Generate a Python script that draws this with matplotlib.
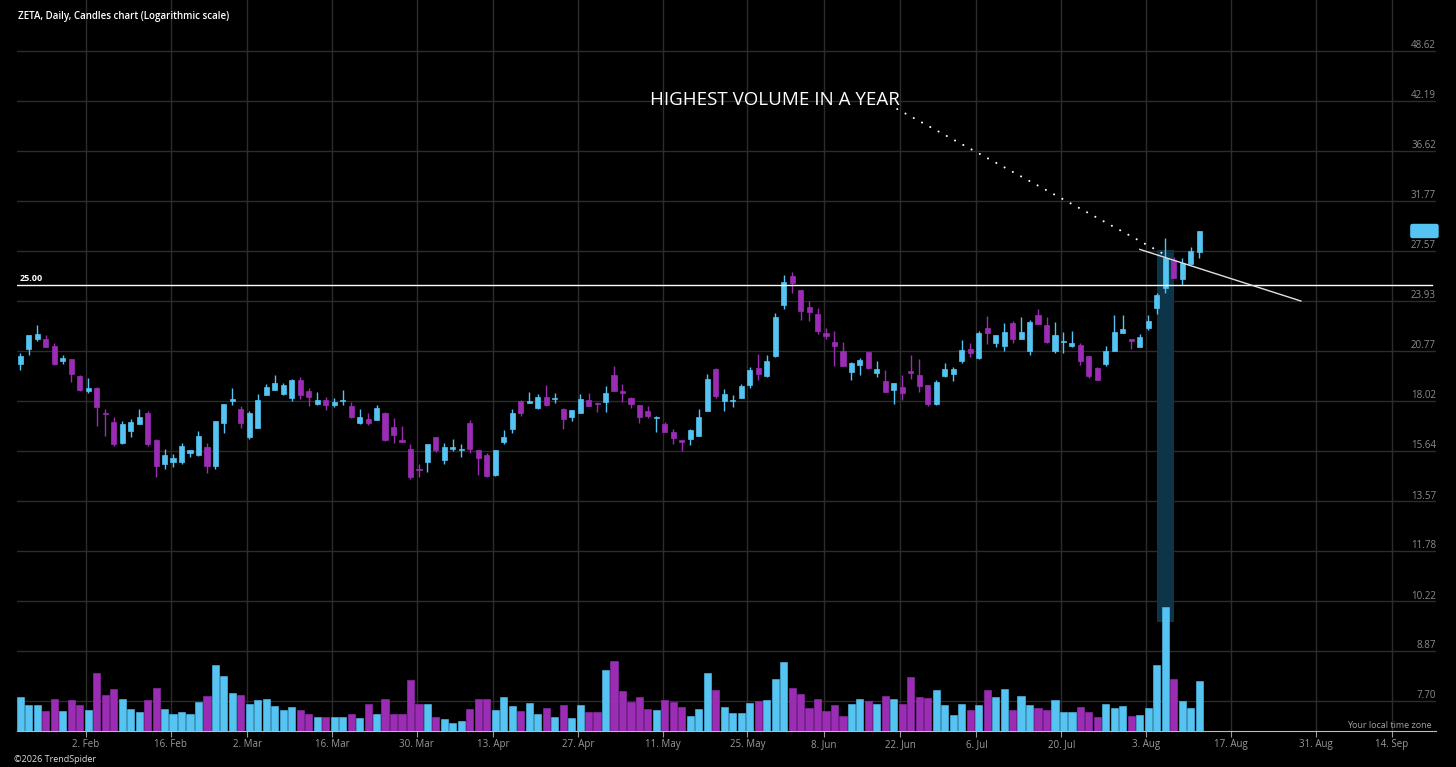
import numpy as np
import matplotlib
matplotlib.use('Agg')
import matplotlib.pyplot as plt
import matplotlib.transforms as mtransforms
from matplotlib.patches import Rectangle
from matplotlib.ticker import NullLocator

# ZETA daily candles, 21 Jan - 11 Aug 2026
start_day = '2026-01-21'
holidays = ['2026-02-16', '2026-04-03', '2026-05-25', '2026-06-19', '2026-07-03', '2026-09-07']

opens = [20.00, 20.85, 21.49, 21.45, 21.04, 20.16, 20.27, 19.31, 18.54, 18.70,
         17.40, 16.96, 15.97, 16.56, 16.87, 17.41, 16.13, 15.06, 15.14, 15.14,
         15.55, 15.45, 15.80, 14.97, 16.90, 18.01, 17.62, 16.27, 16.68, 18.32,
         18.58, 18.37, 18.15, 19.11, 18.51, 17.84, 18.06, 17.79, 17.99, 17.75,
         16.90, 17.11, 17.06, 17.39, 16.75, 16.12, 15.71, 14.86, 15.14, 16.24,
         15.23, 15.73, 15.67, 16.90, 15.67, 15.44, 14.60, 16.01, 16.62, 18.01,
         17.92, 17.64, 18.23, 18.11, 17.62, 17.22, 17.42, 18.06, 17.92, 17.96,
         19.37, 18.54, 18.15, 17.81, 17.52, 17.14, 16.85, 16.51, 16.12, 16.15,
         16.31, 17.52, 19.72, 18.02, 17.99, 18.16, 18.82, 19.79, 19.32, 20.46,
         23.64, 25.67, 24.67, 23.51, 23.03, 21.85, 21.31, 20.75, 19.53, 19.96,
         20.69, 19.48, 19.06, 18.58, 18.75, 19.60, 19.38, 18.84, 17.84, 19.31,
         19.44, 20.19, 20.85, 20.33, 22.14, 21.25, 21.04, 22.44, 21.47, 20.75,
         22.98, 22.33, 20.77, 21.27, 21.04, 21.11, 20.44, 19.79, 20.00, 20.77,
         21.85, 21.45, 21.00, 22.13, 23.42, 24.83, 26.86, 25.45, 26.54, 27.45]

highs = [20.65, 21.72, 22.33, 21.74, 21.25, 20.50, 20.30, 19.40, 19.22, 18.72,
         17.59, 17.19, 17.00, 17.12, 17.62, 17.50, 16.15, 15.70, 15.48, 15.97,
         15.69, 16.56, 15.97, 17.02, 17.88, 18.69, 17.75, 17.50, 18.37, 18.89,
         19.38, 18.93, 19.18, 19.26, 18.67, 18.47, 18.20, 18.16, 18.56, 17.96,
         17.59, 17.39, 17.79, 17.45, 17.14, 16.77, 15.93, 15.06, 15.96, 16.27,
         15.97, 16.17, 15.93, 17.06, 15.69, 15.52, 15.69, 16.59, 17.59, 18.06,
         18.49, 18.36, 18.83, 18.41, 17.64, 17.57, 18.37, 18.44, 17.94, 18.79,
         19.89, 18.89, 18.20, 17.83, 17.76, 17.26, 16.96, 16.62, 16.14, 16.65,
         17.59, 19.44, 19.77, 18.62, 18.30, 18.89, 19.85, 20.56, 20.52, 23.09,
         25.77, 25.96, 24.70, 23.89, 23.42, 22.13, 21.98, 21.31, 20.12, 20.34,
         20.71, 20.19, 19.66, 18.95, 19.38, 20.52, 20.27, 18.86, 19.11, 20.04,
         19.85, 21.41, 21.25, 21.96, 22.93, 21.72, 22.48, 22.59, 22.86, 22.65,
         23.36, 22.82, 22.52, 21.91, 21.98, 21.21, 20.46, 19.85, 21.04, 22.98,
         22.98, 21.47, 21.77, 22.98, 24.48, 28.56, 27.11, 26.99, 27.89, 29.20]

lows = [19.66, 20.52, 21.37, 20.98, 19.96, 19.98, 19.02, 18.54, 18.44, 16.77,
        16.32, 15.85, 15.95, 16.24, 16.85, 15.85, 14.53, 14.87, 14.95, 15.06,
        15.37, 15.43, 14.67, 14.85, 16.43, 17.81, 16.70, 16.15, 16.66, 18.30,
        18.56, 18.30, 18.02, 18.13, 17.75, 17.82, 17.55, 17.72, 17.82, 17.17,
        16.88, 16.82, 17.04, 16.10, 16.00, 16.02, 14.42, 14.50, 14.74, 15.57,
        15.05, 15.64, 15.37, 15.52, 14.60, 14.50, 14.56, 15.94, 16.46, 17.26,
        17.90, 17.62, 17.77, 17.89, 16.62, 17.01, 17.40, 17.73, 17.47, 17.47,
        18.51, 17.97, 17.65, 16.90, 17.14, 16.51, 16.48, 15.94, 15.63, 15.89,
        16.29, 17.50, 18.15, 17.52, 17.72, 18.14, 18.69, 19.11, 19.29, 20.42,
        23.40, 24.44, 22.65, 22.57, 21.77, 21.45, 19.89, 19.88, 19.11, 19.38,
        19.74, 19.26, 18.47, 17.84, 18.06, 19.15, 18.49, 17.77, 17.81, 19.26,
        19.06, 20.04, 20.38, 20.29, 21.17, 20.97, 20.77, 21.25, 21.45, 20.52,
        22.38, 21.25, 20.62, 20.65, 20.97, 19.94, 19.20, 19.09, 19.89, 20.75,
        21.83, 20.85, 20.97, 22.02, 23.05, 24.48, 25.53, 25.02, 26.52, 26.99]

closes = [20.46, 21.70, 21.78, 21.00, 19.98, 20.34, 19.45, 18.56, 18.69, 17.72,
          17.34, 15.93, 16.87, 16.96, 17.19, 15.94, 14.99, 15.46, 15.30, 15.87,
          15.67, 16.32, 14.99, 17.00, 17.86, 18.10, 16.93, 17.39, 18.06, 18.75,
          18.93, 18.84, 19.11, 18.32, 18.23, 18.06, 17.81, 17.94, 18.06, 17.19,
          17.22, 16.90, 17.67, 16.12, 16.36, 16.04, 14.53, 14.81, 15.94, 15.67,
          15.82, 15.82, 15.73, 15.70, 15.30, 14.56, 15.67, 16.24, 17.42, 17.39,
          18.01, 18.20, 17.79, 18.18, 17.09, 17.55, 18.10, 17.75, 17.84, 18.44,
          18.53, 18.44, 17.84, 17.22, 17.26, 17.19, 16.50, 16.23, 16.04, 16.59,
          17.19, 19.15, 18.27, 18.36, 18.06, 18.80, 19.66, 19.45, 20.17, 22.86,
          25.22, 25.19, 23.24, 23.16, 21.98, 21.65, 21.06, 19.90, 20.04, 20.25,
          19.76, 19.73, 18.49, 18.93, 18.44, 19.51, 18.79, 17.86, 19.00, 19.73,
          19.73, 20.81, 20.65, 21.85, 21.85, 21.70, 21.91, 21.45, 21.91, 22.54,
          22.40, 21.31, 21.70, 21.35, 21.21, 20.19, 19.32, 19.11, 20.75, 21.89,
          22.06, 21.35, 21.61, 22.57, 24.32, 26.99, 25.55, 26.65, 27.58, 29.16]

# volume, millions of shares
volume = [8.5, 6.6, 6.6, 5.0, 8.1, 5.0, 7.8, 6.6, 5.3, 14.6,
          9.1, 10.5, 7.9, 5.6, 4.7, 7.8, 10.8, 5.6, 4.2, 4.8,
          4.2, 7.2, 8.7, 16.4, 13.7, 9.5, 9.1, 6.8, 7.7, 7.9,
          6.3, 5.3, 6.1, 5.3, 4.3, 3.6, 3.6, 3.4, 3.6, 4.2,
          3.2, 6.7, 4.3, 8.1, 4.2, 4.2, 12.8, 6.8, 6.8, 3.6,
          3.0, 2.0, 2.4, 5.6, 8.1, 7.9, 5.2, 8.5, 6.2, 5.0,
          7.0, 4.2, 5.8, 3.4, 6.6, 3.2, 6.6, 4.7, 4.8, 15.3,
          17.6, 9.9, 7.3, 8.5, 5.6, 5.2, 7.8, 7.3, 6.0, 3.8,
          5.6, 14.4, 10.2, 6.0, 4.4, 4.4, 7.0, 7.6, 7.8, 12.9,
          17.2, 10.7, 9.3, 5.7, 7.9, 4.9, 6.4, 3.8, 6.8, 7.9,
          7.6, 6.8, 8.8, 8.1, 6.8, 13.5, 8.6, 8.3, 10.3, 6.4,
          4.0, 6.8, 5.2, 6.4, 10.2, 8.4, 10.5, 5.2, 8.8, 6.4,
          5.7, 5.2, 7.8, 4.7, 4.7, 6.0, 4.7, 3.6, 6.7, 5.8,
          6.2, 3.8, 4.0, 5.8, 16.4, 31.0, 12.9, 7.6, 5.8, 12.5]

price_ticks = [7.70, 8.87, 10.22, 11.78, 13.57, 15.64, 18.02, 20.77,
               23.93, 27.57, 31.77, 36.62, 42.19, 48.62]

tick_dates = ['2026-02-02', '2026-02-16', '2026-03-02', '2026-03-16', '2026-03-30',
              '2026-04-13', '2026-04-27', '2026-05-11', '2026-05-25', '2026-06-08',
              '2026-06-22', '2026-07-06', '2026-07-20', '2026-08-03', '2026-08-17',
              '2026-08-31', '2026-09-14']
tick_labels = ['2. Feb', '16. Feb', '2. Mar', '16. Mar', '30. Mar', '13. Apr', '27. Apr',
               '11. May', '25. May', '8. Jun', '22. Jun', '6. Jul', '20. Jul', '3. Aug',
               '17. Aug', '31. Aug', '14. Sep']

level = 25.00
volume_day = '2026-08-05'

up_col = '#55c4f2'
down_col = '#9b2db5'
grid_col = '#2c2c2c'

o = np.array(opens); h = np.array(highs); l = np.array(lows); c = np.array(closes)
v = np.array(volume)
x = np.arange(len(o))
cols = [up_col if cc >= oo else down_col for oo, cc in zip(o, c)]

tick_pos = np.busday_count(start_day, tick_dates, holidays=holidays) - 0.26
hl_pos = np.busday_count(start_day, volume_day, holidays=holidays)

W, H = 1456, 767
fig = plt.figure(figsize=(W / 100, H / 100), dpi=100, facecolor='black')
rect = [17 / W, 36 / H, 1419 / W, 731 / H]

ax = fig.add_axes(rect, zorder=1)
axv = fig.add_axes(rect, zorder=2, sharex=ax)
ax.set_facecolor('black')
axv.patch.set_visible(False)

ax.set_yscale('log')
ax.set_ylim(7.066, 56.13)
ax.set_xlim(-0.40, 166.93)
axv.set_ylim(0, 182.75)

# grid
ax.set_yticks(price_ticks)
ax.yaxis.set_minor_locator(NullLocator())
ax.tick_params(axis='y', left=False, labelleft=False)
ax.set_xticks(tick_pos)
ax.set_xticklabels(tick_labels)
ax.tick_params(axis='x', colors='#9a9a9a', length=4, width=0.8, pad=2, labelsize=7)
for lab in ax.get_xticklabels():
    lab.set_family('Open Sans')
ax.grid(True, color=grid_col, lw=1)
ax.set_axisbelow(True)
for s in ['top', 'right', 'left']:
    ax.spines[s].set_visible(False)
ax.spines['bottom'].set_color('#bbbbbb')
axv.axis('off')

# highlight column behind the record volume day
blend = mtransforms.blended_transform_factory(ax.transData, ax.transAxes)
ax.add_patch(Rectangle((hl_pos - 1.0, 0.1495), 2.0, 0.5085, transform=blend,
                       fc='#0c3549', ec='none', zorder=1.5))

# candles
ax.vlines(x, l, h, colors=cols, lw=1, zorder=2)
ax.bar(x, np.maximum(np.abs(c - o), 0.03), bottom=np.minimum(o, c), width=0.6,
       color=cols, edgecolor=cols, lw=0.5, zorder=3)

# volume
axv.bar(x, v, width=0.84, color=cols, edgecolor=cols, lw=0.4)

# price labels on the right
lab_tr = mtransforms.offset_copy(mtransforms.blended_transform_factory(ax.transAxes, ax.transData),
                                 fig=fig, x=0, y=-0.5, units='points')
for p in price_ticks:
    ax.text(1.0, p, f'{p:.2f}', transform=lab_tr, ha='right', va='bottom',
            color='#8c8c8c', fontsize=7, family='Open Sans')

# horizontal level
ax.axhline(level, xmin=0, xmax=0.997, color='white', lw=1, zorder=4)
lvl_tr = mtransforms.offset_copy(mtransforms.blended_transform_factory(ax.transAxes, ax.transData),
                                 fig=fig, x=0, y=1.5, units='points')
ax.text(0.002, level, f'{level:.2f}', transform=lvl_tr, ha='left', va='bottom',
        color='white', fontsize=6.5, fontweight='bold', family='Open Sans')

# last price box
last_tr = mtransforms.blended_transform_factory(ax.transAxes, ax.transData)
ax.text(1.0, c[-1], f'{c[-1]:.2f}', transform=last_tr, ha='right', va='center',
        color=up_col, fontsize=6.5, family='Open Sans',
        bbox=dict(boxstyle='round,pad=0.3,rounding_size=0.25', fc=up_col, ec='none'))

# annotation
ax.plot([103.4, 134.6], [41.2, 27.4], color='white', lw=1.5,
        linestyle=(0, (0.01, 4.5)), dash_capstyle='round', zorder=5)
ax.plot([132.0, 151.0], [27.68, 23.91], color='#e0e0e0', lw=1, zorder=5)
fig.text(650 / W, 1 - 100 / H, 'HIGHEST VOLUME IN A YEAR', color='white',
         fontsize=13.5, family='Open Sans', ha='left', va='center')

fig.text(18 / W, 1 - 17 / H, 'ZETA, Daily, Candles chart (Logarithmic scale)', color='white',
         fontsize=7, fontweight='semibold', family='Open Sans', ha='left', va='center')
fig.text(1432 / W, 1 - 725 / H, 'Your local time zone', color='#a0a0a0',
         fontsize=6.5, family='Open Sans', ha='right', va='center')
fig.text(14 / W, 1 - 759 / H, '\u00a92026 TrendSpider', color='#dddddd',
         fontsize=6.5, family='Open Sans', ha='left', va='center')

fig.savefig('out.png', dpi=100, facecolor='black')
